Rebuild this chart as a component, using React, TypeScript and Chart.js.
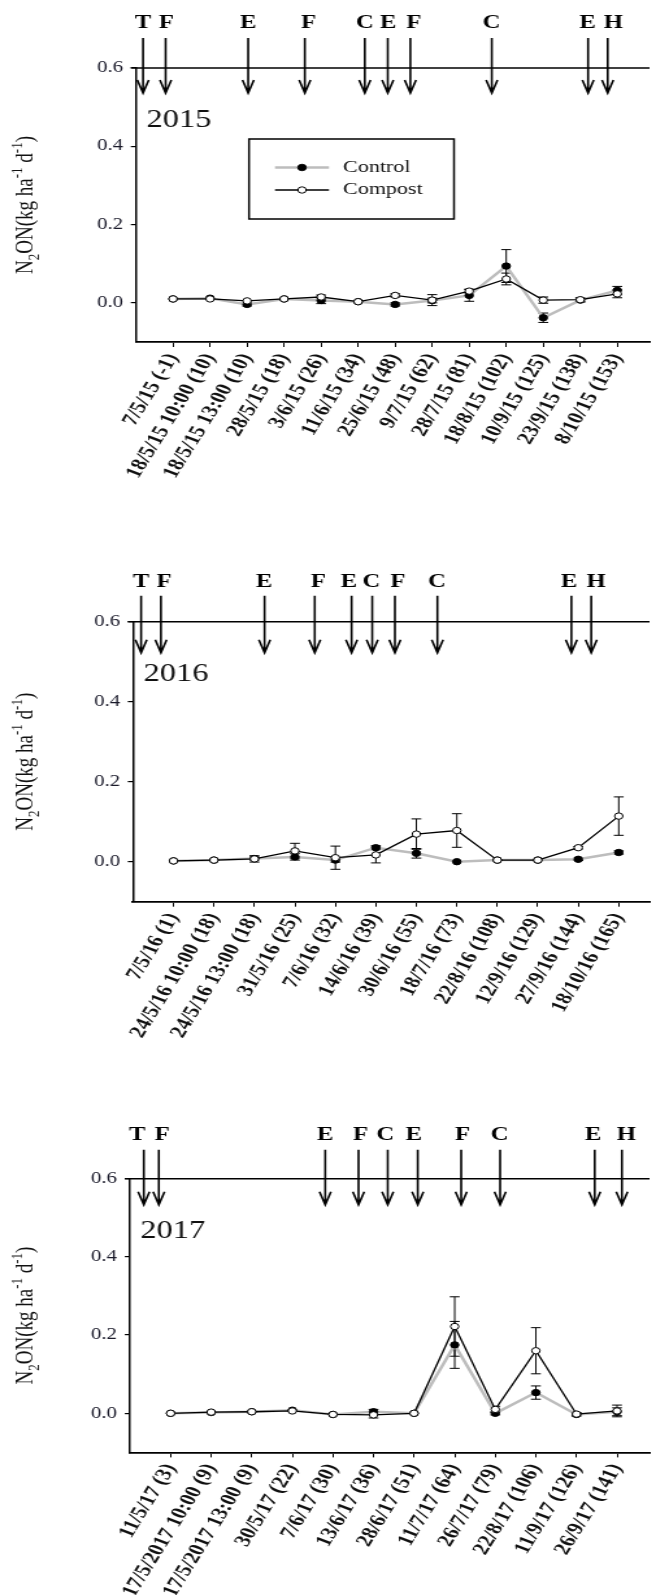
import React, { useEffect, useRef } from "react";
import { Chart, registerables } from "chart.js";

Chart.register(...registerables);

// ---------- data ----------
const labels2015 = ["7/5/15 (-1)", "18/5/15 10:00 (10)", "18/5/15 13:00 (10)", "28/5/15 (18)", "3/6/15 (26)", "11/6/15 (34)", "25/6/15 (48)", "9/7/15 (62)", "28/7/15 (81)", "18/8/15 (102)", "10/9/15 (125)", "23/9/15 (138)", "8/10/15 (153)"];
const control2015 = [0.010, 0.012, -0.004, 0.010, 0.006, 0.003, -0.004, 0.006, 0.019, 0.094, -0.038, 0.007, 0.032];
const compost2015 = [0.010, 0.010, 0.005, 0.010, 0.015, 0.003, 0.019, 0.007, 0.030, 0.061, 0.007, 0.008, 0.023];
const controlErr2015 = [0, 0, 0.004, 0, 0.008, 0, 0.004, 0.006, 0.015, 0.042, 0.012, 0.005, 0.010];
const compostErr2015 = [0, 0, 0, 0, 0.005, 0, 0.004, 0.014, 0.005, 0.015, 0.008, 0.005, 0.010];
const events2015 = ["T", "F", "E", "F", "C", "E", "F", "C", "E", "H"];
const eventPos2015 = [-0.81, -0.2, 2.03, 3.56, 5.18, 5.8, 6.41, 8.61, 11.21, 11.74];
const letterPos2015 = [-0.81, -0.18, 2.03, 3.66, 5.18, 5.81, 6.5, 8.6, 11.2, 11.89];

const labels2016 = ["7/5/16 (1)", "24/5/16 10:00 (18)", "24/5/16 13:00 (18)", "31/5/16 (25)", "7/6/16 (32)", "14/6/16 (39)", "30/6/16 (55)", "18/7/16 (73)", "22/8/16 (108)", "12/9/16 (129)", "27/9/16 (144)", "18/10/16 (165)"];
const control2016 = [0.002, 0.004, 0.008, 0.012, 0.004, 0.035, 0.021, 0.000, 0.004, 0.004, 0.006, 0.023];
const compost2016 = [0.002, 0.004, 0.007, 0.027, 0.010, 0.017, 0.069, 0.078, 0.004, 0.004, 0.035, 0.114];
const controlErr2016 = [0, 0, 0.004, 0.008, 0.005, 0.005, 0.012, 0, 0, 0, 0.003, 0.004];
const compostErr2016 = [0, 0, 0.008, 0.019, 0.029, 0.020, 0.038, 0.042, 0, 0, 0.003, 0.048];
const events2016 = ["T", "F", "E", "F", "E", "C", "F", "C", "E", "H"];
const eventPos2016 = [-0.8, -0.31, 2.25, 3.49, 4.4, 4.91, 5.47, 6.52, 9.83, 10.32];
const letterPos2016 = [-0.8, -0.23, 2.24, 3.58, 4.33, 4.89, 5.54, 6.51, 9.77, 10.44];

const labels2017 = ["11/5/17 (3)", "17/5/2017 10:00 (9)", "17/5/2017 13:00 (9)", "30/5/17 (22)", "7/6/17 (30)", "13/6/17 (36)", "28/6/17 (51)", "11/7/17 (64)", "26/7/17 (79)", "22/8/17 (106)", "11/9/17 (126)", "26/9/17 (141)"];
const control2017 = [0.000, 0.002, 0.004, 0.008, -0.003, 0.004, 0.000, 0.175, 0.000, 0.053, -0.003, 0.004];
const compost2017 = [0.000, 0.003, 0.004, 0.006, -0.003, -0.004, 0.000, 0.222, 0.010, 0.160, -0.002, 0.006];
const controlErr2017 = [0, 0, 0, 0, 0, 0.006, 0, 0.060, 0.004, 0.017, 0.004, 0.010];
const compostErr2017 = [0, 0, 0, 0, 0, 0.008, 0, 0.076, 0.008, 0.059, 0.004, 0.015];
const events2017 = ["T", "F", "E", "F", "C", "E", "F", "C", "E", "H"];
const eventPos2017 = [-0.66, -0.29, 3.81, 4.63, 5.35, 6.09, 7.16, 8.12, 10.45, 11.12];
const letterPos2017 = [-0.82, -0.21, 3.81, 4.68, 5.29, 5.99, 7.19, 8.11, 10.41, 11.23];

const yTicks = [0, 0.2, 0.4, 0.6];
const seriesNames = ["Control", "Compost"];

// ---------- layout ----------
const CW = 505; // canvas bitmap width, stretched to 656 px
const S = 656 / CW;
const SERIF = '"Liberation Serif", "Times New Roman", serif';

type PanelCfg = {
  year: string;
  labels: string[];
  control: number[];
  compost: number[];
  controlErr: number[];
  compostErr: number[];
  events: string[];
  eventPos: number[];
  letterPos: number[];
  top: number;
  height: number;
  padTop: number;
  yAxisW: number;
  xAxisH: number;
  xMax: number;
  letterDy: number;
  stemTop: number;
  tip: number;
  legend: boolean;
};

const panels: PanelCfg[] = [
  { year: "2015", labels: labels2015, control: control2015, compost: compost2015, controlErr: controlErr2015, compostErr: compostErr2015, events: events2015, eventPos: eventPos2015, letterPos: letterPos2015,
    top: 0, height: 520, padTop: 68, yAxisW: 136 / S, xAxisH: 178, xMax: 12.87, letterDy: -45, stemTop: -30, tip: 25, legend: true },
  { year: "2016", labels: labels2016, control: control2016, compost: compost2016, controlErr: controlErr2016, compostErr: compostErr2016, events: events2016, eventPos: eventPos2016, letterPos: letterPos2016,
    top: 530, height: 540, padTop: 91.7, yAxisW: 133 / S, xAxisH: 168.3, xMax: 11.76, letterDy: -40, stemTop: -26, tip: 31, legend: false },
  { year: "2017", labels: labels2017, control: control2017, compost: compost2017, controlErr: controlErr2017, compostErr: compostErr2017, events: events2017, eventPos: eventPos2017, letterPos: letterPos2017,
    top: 1075, height: 520, padTop: 103.7, yAxisW: 130 / S, xAxisH: 142.6, xMax: 11.8, letterDy: -44, stemTop: -29, tip: 26, legend: false },
];

function makeDecor(cfg: PanelCfg) {
  return {
    id: "decor",
    beforeDatasetsDraw(chart: any) {
      const ctx = chart.ctx as CanvasRenderingContext2D;
      const ys = chart.scales.y;
      ctx.save();
      ctx.strokeStyle = "#000";
      ctx.lineWidth = 1;
      chart.data.datasets.forEach((ds: any, di: number) => {
        const meta = chart.getDatasetMeta(di);
        const errs: number[] = ds.errors || [];
        meta.data.forEach((pt: any, i: number) => {
          const e = errs[i];
          if (!e) return;
          const v = ds.data[i].y;
          const y1 = ys.getPixelForValue(v + e);
          const y2 = ys.getPixelForValue(v - e);
          const x = pt.x;
          ctx.beginPath();
          ctx.moveTo(x, y1); ctx.lineTo(x, y2);
          ctx.moveTo(x - 3.8, y1); ctx.lineTo(x + 3.8, y1);
          ctx.moveTo(x - 3.8, y2); ctx.lineTo(x + 3.8, y2);
          ctx.stroke();
        });
      });
      ctx.restore();
    },
    afterDraw(chart: any) {
      const ctx = chart.ctx as CanvasRenderingContext2D;
      const ca = chart.chartArea;
      const xs = chart.scales.x;
      ctx.save();
      // top line at 0.6
      ctx.strokeStyle = "#000";
      ctx.lineWidth = 1.5;
      ctx.beginPath();
      ctx.moveTo(ca.left - 4, ca.top);
      ctx.lineTo(ca.right, ca.top);
      ctx.stroke();

      // event arrows
      ctx.fillStyle = "#000";
      ctx.font = `bold 19px ${SERIF}`;
      ctx.textAlign = "center";
      ctx.textBaseline = "middle";
      ctx.lineWidth = 1.6;
      cfg.events.forEach((ev, i) => {
        const x = xs.getPixelForValue(cfg.eventPos[i]);
        const tipY = ca.top + cfg.tip;
        ctx.beginPath();
        ctx.moveTo(x, ca.top + cfg.stemTop);
        ctx.lineTo(x, tipY);
        ctx.moveTo(x - 4.4, tipY - 13);
        ctx.lineTo(x, tipY);
        ctx.lineTo(x + 4.4, tipY - 13);
        ctx.stroke();
        ctx.fillText(ev, xs.getPixelForValue(cfg.letterPos[i]), ca.top + cfg.letterDy);
      });

      // year
      ctx.textAlign = "left";
      ctx.textBaseline = "alphabetic";
      ctx.font = `25px ${SERIF}`;
      ctx.fillStyle = "#111";
      ctx.fillText(cfg.year, ca.left + 8, ca.top + 59);

      // y axis title with sub/superscripts
      const parts = [
        { t: "N", f: 19, dy: 0 },
        { t: "2", f: 13, dy: 5 },
        { t: "ON(kg ha", f: 19, dy: 0 },
        { t: "-1", f: 13, dy: -8 },
        { t: " d", f: 19, dy: 0 },
        { t: "-1", f: 13, dy: -8 },
        { t: ")", f: 19, dy: 0 },
      ];
      let total = 0;
      parts.forEach((p) => { ctx.font = `${p.f}px ${SERIF}`; total += ctx.measureText(p.t).width; });
      ctx.save();
      ctx.translate(33 / S, (ca.top + ca.bottom) / 2);
      ctx.rotate(-Math.PI / 2);
      let px = -total / 2;
      parts.forEach((p) => {
        ctx.font = `${p.f}px ${SERIF}`;
        ctx.fillText(p.t, px, p.dy);
        px += ctx.measureText(p.t).width;
      });
      ctx.restore();

      // legend
      if (cfg.legend) {
        ctx.strokeStyle = "#000";
        ctx.lineWidth = 1.5;
        ctx.strokeRect(249 / S, 139, (454 - 249) / S, 80);
        const lx1 = 275 / S, lx2 = 329 / S, mx = 302 / S, tx = 343 / S;
        const rows = [
          { name: seriesNames[0], y: 167.5, line: "#bdbdbd", lw: 2.5, fill: "#000" },
          { name: seriesNames[1], y: 190, line: "#000", lw: 1.3, fill: "#fff" },
        ];
        rows.forEach((r) => {
          ctx.strokeStyle = r.line;
          ctx.lineWidth = r.lw;
          ctx.beginPath();
          ctx.moveTo(lx1, r.y); ctx.lineTo(lx2, r.y);
          ctx.stroke();
          ctx.beginPath();
          ctx.arc(mx, r.y, 3.2, 0, Math.PI * 2);
          ctx.fillStyle = r.fill;
          ctx.fill();
          ctx.strokeStyle = "#000";
          ctx.lineWidth = 1;
          ctx.stroke();
          ctx.fillStyle = "#111";
          ctx.font = `17px ${SERIF}`;
          ctx.textBaseline = "middle";
          ctx.fillText(r.name, tx, r.y);
        });
      }
      ctx.restore();
    },
  };
}

function Panel({ cfg }: { cfg: PanelCfg }) {
  const ref = useRef<HTMLCanvasElement>(null);
  useEffect(() => {
    const labels = cfg.labels;
    const chart = new Chart(ref.current as HTMLCanvasElement, {
      type: "line",
      data: {
        datasets: [
          {
            label: seriesNames[1],
            data: cfg.compost.map((v, i) => ({ x: i, y: v })),
            errors: cfg.compostErr,
            borderColor: "#000",
            borderWidth: 1.3,
            pointRadius: 3.2,
            pointBackgroundColor: "#fff",
            pointBorderColor: "#000",
            pointBorderWidth: 1,
            tension: 0,
          } as any,
          {
            label: seriesNames[0],
            data: cfg.control.map((v, i) => ({ x: i, y: v })),
            errors: cfg.controlErr,
            borderColor: "#bdbdbd",
            borderWidth: 2.5,
            pointRadius: 3.2,
            pointBackgroundColor: "#000",
            pointBorderColor: "#000",
            pointBorderWidth: 1,
            tension: 0,
          } as any,
        ],
      },
      options: {
        responsive: false,
        animation: false,
        events: [],
        layout: { padding: { top: cfg.padTop, left: 0, right: 0, bottom: 0 } },
        plugins: { legend: { display: false }, tooltip: { enabled: false } },
        scales: {
          x: {
            type: "linear",
            min: -1,
            max: cfg.xMax,
            afterBuildTicks: (axis: any) => { axis.ticks = labels.map((_, i) => ({ value: i })); },
            afterFit: (axis: any) => { axis.height = cfg.xAxisH; },
            grid: { drawOnChartArea: false, drawTicks: true, tickLength: 5, color: "#000", lineWidth: 1 },
            border: { display: true, color: "#000", width: 1.8 },
            ticks: {
              autoSkip: false,
              minRotation: 64,
              maxRotation: 64,
              padding: 3,
              color: "#111",
              font: { family: SERIF, size: 18, weight: "bold" },
              callback: (v: any) => labels[v] ?? "",
            },
          },
          y: {
            min: -0.1,
            max: 0.6,
            afterBuildTicks: (axis: any) => { axis.ticks = yTicks.map((v) => ({ value: v })); },
            afterFit: (axis: any) => { axis.width = cfg.yAxisW; },
            grid: { drawOnChartArea: false, drawTicks: true, tickLength: 4, color: "#000", lineWidth: 1.2 },
            border: { display: true, color: "#000", width: 1.5 },
            ticks: {
              padding: 6,
              color: "#1a1a2a",
              font: { family: SERIF, size: 16 },
              callback: (v: any) => Number(v).toFixed(1),
            },
          },
        },
      } as any,
      plugins: [makeDecor(cfg)],
    });
    return () => chart.destroy();
  }, [cfg]);
  return (
    <canvas
      ref={ref}
      width={CW}
      height={cfg.height}
      style={{ position: "absolute", left: 0, top: cfg.top, width: "656px", height: `${cfg.height}px` }}
    />
  );
}

export default function App() {
  return (
    <div style={{ position: "absolute", left: 0, top: 0, width: 656, height: 1595, background: "#fff", overflow: "hidden" }}>
      {panels.map((p) => (
        <Panel key={p.year} cfg={p} />
      ))}
    </div>
  );
}
